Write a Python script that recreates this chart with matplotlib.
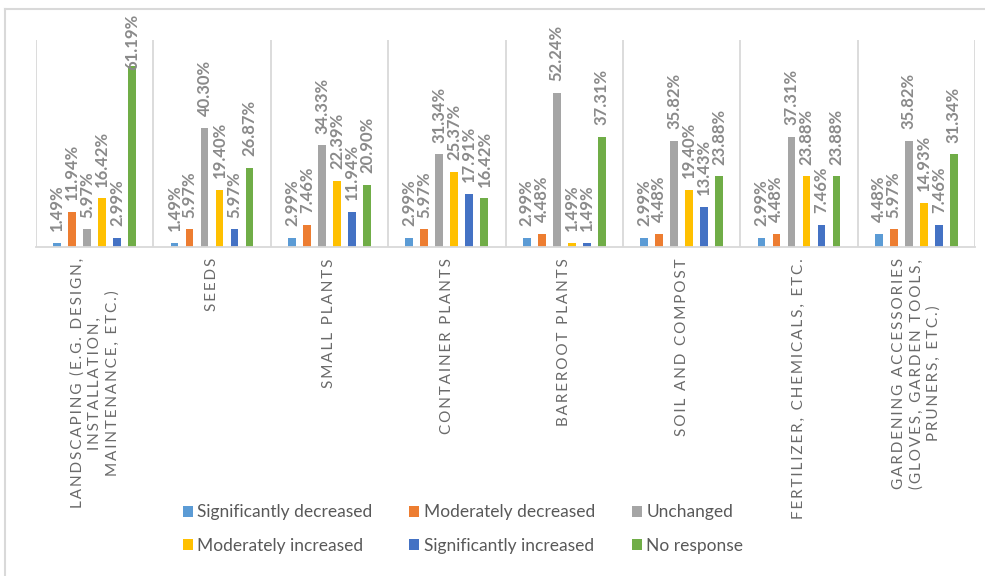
import numpy as np
import matplotlib
matplotlib.use("Agg")
import matplotlib.pyplot as plt
from matplotlib.patches import Patch
from matplotlib.lines import Line2D

plt.rcParams['font.family'] = ['Lato', 'DejaVu Sans']

# survey categories (display text, already wrapped)
categories = [
    "LANDSCAPING (E.G. DESIGN,\nINSTALLATION,\nMAINTENANCE, ETC.)",
    "SEEDS",
    "SMALL PLANTS",
    "CONTAINER PLANTS",
    "BAREROOT PLANTS",
    "SOIL AND COMPOST",
    "FERTILIZER, CHEMICALS, ETC.",
    "GARDENING ACCESSORIES\n(GLOVES, GARDEN TOOLS,\nPRUNERS, ETC.)",
]

series_names = ["Significantly decreased", "Moderately decreased", "Unchanged",
                "Moderately increased", "Significantly increased", "No response"]

sig_decreased = [1.49, 1.49, 2.99, 2.99, 2.99, 2.99, 2.99, 4.48]
mod_decreased = [11.94, 5.97, 7.46, 5.97, 4.48, 4.48, 4.48, 5.97]
unchanged = [5.97, 40.30, 34.33, 31.34, 52.24, 35.82, 37.31, 35.82]
mod_increased = [16.42, 19.40, 22.39, 25.37, 1.49, 19.40, 23.88, 14.93]
sig_increased = [2.99, 5.97, 11.94, 17.91, 1.49, 13.43, 7.46, 7.46]
no_response = [61.19, 26.87, 20.90, 16.42, 37.31, 23.88, 23.88, 31.34]

colors = ["#5B9BD5", "#ED7D31", "#A5A5A5", "#FFC000", "#4472C4", "#70AD47"]
series = [sig_decreased, mod_decreased, unchanged, mod_increased, sig_increased, no_response]

W, H = 985, 576
fig = plt.figure(figsize=(W / 100, H / 100), dpi=100)
ax = fig.add_axes([36 / W, 1 - 247 / H, (975 - 36) / W, (247 - 40) / H])

x = np.arange(len(categories))
step = 0.128
width = 0.066
labels = []
for i, (vals, col) in enumerate(zip(series, colors)):
    xs = x + (i - 2.5) * step
    ax.bar(xs, vals, width, color=col, linewidth=0)
    for xi, v in zip(xs, vals):
        t = ax.annotate(f"{v:.2f}%", (xi, v), xytext=(0, 8.5), textcoords='offset points',
                        rotation=90, ha='center', va='bottom', fontsize=12,
                        fontweight='bold', color='#8a8a8a')
        labels.append(t)

ax.set_xlim(-0.5, len(categories) - 0.5)
ax.set_ylim(0, 70)


def spaced(s):
    # wide letter spacing for the category captions
    out = []
    for line in s.split("\n"):
        out.append("\u2009 \u2009".join("\u2009".join(w) for w in line.split(" ")))
    return "\n".join(out)


ax.set_xticks(x)
ax.set_xticklabels([spaced(c) for c in categories], rotation=90, va='top', ha='center',
                   multialignment='center', linespacing=1.3, fontsize=11,
                   color='#6a6a6a')
ax.tick_params(axis='x', length=0, pad=8)
ax.set_xticks(np.arange(-0.5, len(categories)), minor=True)
ax.tick_params(axis='x', which='minor', length=0)
ax.grid(axis='x', which='minor', color='#d9d9d9', linewidth=1.3)
ax.set_yticks([])
for side in ['top', 'left', 'right']:
    ax.spines[side].set_visible(False)
ax.spines['bottom'].set_color('#d9d9d9')
ax.spines['bottom'].set_linewidth(1.3)
ax.set_axisbelow(True)

# keep value labels inside the chart area
fig.canvas.draw()
renderer = fig.canvas.get_renderer()
limit = H - 14
for t in labels:
    bb = t.get_window_extent(renderer)
    if bb.y1 > limit:
        dx, dy = t.xyann
        t.xyann = (dx, dy - (bb.y1 - limit) * 72 / 100)

order = [0, 3, 1, 4, 2, 5]
handles = [Patch(facecolor=colors[i], linewidth=0, label=series_names[i]) for i in order]
fig.legend(handles=handles, ncol=3, loc='center', bbox_to_anchor=(0.47, 1 - 529 / H),
           frameon=False, fontsize=12.5, labelcolor='#595959', handlelength=0.6,
           handleheight=0.6, handletextpad=0.25, columnspacing=2.1, labelspacing=1.0)

# chart area border (top and left edges)
fig.add_artist(Line2D([5 / W, 1], [1 - 9 / H, 1 - 9 / H], color='#d9d9d9', linewidth=1.5))
fig.add_artist(Line2D([5 / W, 5 / W], [0, 1 - 9 / H], color='#d9d9d9', linewidth=1.5))

fig.savefig("out.png", dpi=100)
